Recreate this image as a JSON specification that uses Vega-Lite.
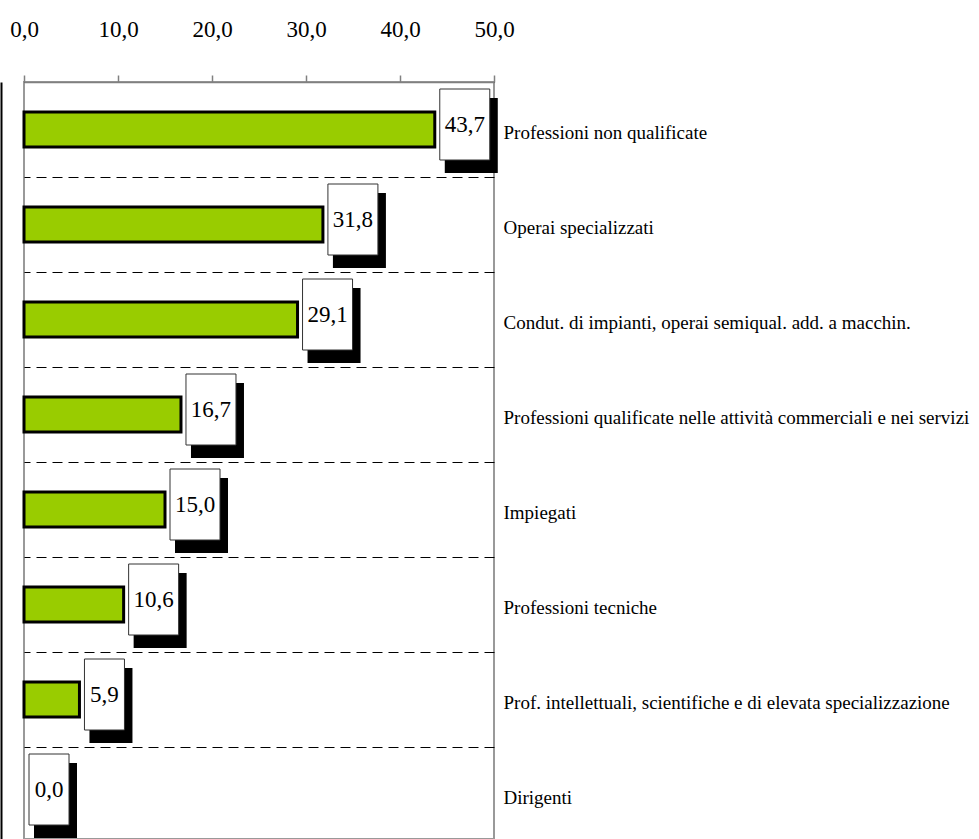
{
  "$schema": "https://vega.github.io/schema/vega-lite/v6.json",
  "autosize": {"type": "none"},
  "padding": {"left": 24, "top": 82, "right": 485, "bottom": 0},
  "width": 470,
  "height": 757,
  "background": "white",
  "config": {
    "locale": {"number": {"decimal": ",", "thousands": ".", "grouping": [3], "currency": ["", " €"]}},
    "view": {"stroke": "#999999", "strokeWidth": 2},
    "font": "Liberation Serif"
  },
  "data": {
    "values": [
      {"category": "Professioni non qualificate", "value": 43.7},
      {"category": "Operai specializzati", "value": 31.8},
      {"category": "Condut. di impianti, operai semiqual. add. a macchin.", "value": 29.1},
      {"category": "Professioni qualificate nelle attività commerciali e nei servizi", "value": 16.7},
      {"category": "Impiegati", "value": 15.0},
      {"category": "Professioni tecniche", "value": 10.6},
      {"category": "Prof. intellettuali, scientifiche e di elevata specializzazione", "value": 5.9},
      {"category": "Dirigenti", "value": 0.0}
    ]
  },
  "encoding": {
    "x": {"field": "value", "type": "quantitative",
      "scale": {"domain": [0, 50], "nice": false, "zero": true},
      "axis": {"orient": "top", "values": [0, 10, 20, 30, 40, 50], "format": ".1f", "title": null,
        "grid": false, "domainColor": "#808080", "domainWidth": 1.5, "tickColor": "#808080", "tickWidth": 1.5,
        "tickSize": 7, "labelFont": "Liberation Serif", "labelFontSize": 23, "labelColor": "black",
        "labelPadding": 34, "labelFlush": false, "labelOverlap": false}}
  },
  "resolve": {"axis": {"y": "independent"}},
  "layer": [
    {
      "transform": [{"filter": "datum.value > 0"}],
      "mark": {"type": "bar", "height": 35, "fill": "#99CC00", "stroke": "black", "strokeWidth": 3},
      "encoding": {
        "y": {"field": "category", "type": "nominal", "sort": null,
          "scale": {"type": "band", "range": [0, 760], "paddingInner": 0, "paddingOuter": 0},
          "axis": {"orient": "right", "title": null, "domain": false, "ticks": false, "tickBand": "extent",
            "grid": true, "gridColor": "black", "gridDash": [10, 6], "gridWidth": 1,
            "labelFont": "Liberation Serif", "labelFontSize": 19, "labelColor": "black",
            "labelPadding": 9, "labelLimit": 0, "labelOffset": 3}}
      }
    },
    {
      "transform": [{"filter": "datum.value >= 10"}],
      "mark": {"type": "bar", "height": 75, "yOffset": 6, "xOffset": 10, "x2Offset": 63, "fill": "black"},
      "encoding": {
        "x2": {"field": "value"},
        "y": {"field": "category", "type": "nominal", "sort": null,
          "axis": {"orient": "left", "offset": 23, "title": null, "domain": true, "domainColor": "black",
            "domainWidth": 2, "labels": false, "ticks": false, "grid": false}}
      }
    },
    {
      "transform": [{"filter": "datum.value < 10"}],
      "mark": {"type": "bar", "height": 75, "yOffset": 6, "xOffset": 10, "x2Offset": 53, "fill": "black"},
      "encoding": {
        "x2": {"field": "value"},
        "y": {"field": "category", "type": "nominal", "sort": null, "axis": null}
      }
    },
    {
      "transform": [{"filter": "datum.value >= 10"}],
      "mark": {"type": "bar", "height": 71, "yOffset": -5, "xOffset": 5, "x2Offset": 55, "fill": "white", "stroke": "#333333", "strokeWidth": 1},
      "encoding": {
        "x2": {"field": "value"},
        "y": {"field": "category", "type": "nominal", "sort": null, "axis": null}
      }
    },
    {
      "transform": [{"filter": "datum.value < 10"}],
      "mark": {"type": "bar", "height": 71, "yOffset": -5, "xOffset": 5, "x2Offset": 45, "fill": "white", "stroke": "#333333", "strokeWidth": 1},
      "encoding": {
        "x2": {"field": "value"},
        "y": {"field": "category", "type": "nominal", "sort": null, "axis": null}
      }
    },
    {
      "transform": [{"filter": "datum.value >= 10"}],
      "mark": {"type": "text", "xOffset": 30, "yOffset": -5, "align": "center", "baseline": "middle", "fontSize": 23, "font": "Liberation Serif", "color": "black"},
      "encoding": {
        "y": {"field": "category", "type": "nominal", "sort": null, "axis": null},
        "text": {"field": "value", "type": "quantitative", "format": ".1f"}
      }
    },
    {
      "transform": [{"filter": "datum.value < 10"}],
      "mark": {"type": "text", "xOffset": 25, "yOffset": -5, "align": "center", "baseline": "middle", "fontSize": 23, "font": "Liberation Serif", "color": "black"},
      "encoding": {
        "y": {"field": "category", "type": "nominal", "sort": null, "axis": null},
        "text": {"field": "value", "type": "quantitative", "format": ".1f"}
      }
    }
  ]
}
